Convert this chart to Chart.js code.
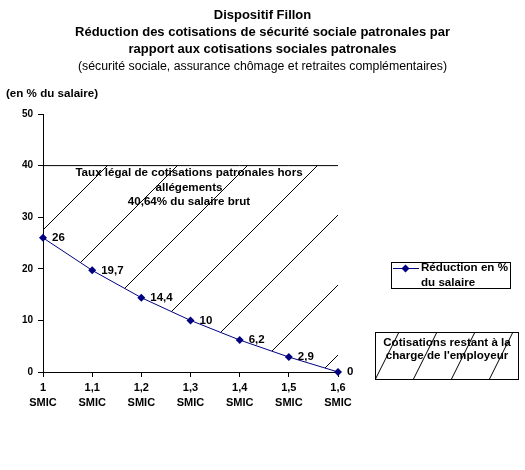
<!DOCTYPE html>
<html lang="fr">
<head>
<meta charset="UTF-8">
<title>Dispositif Fillon</title>
<script src="https://cdn.jsdelivr.net/npm/chart.js"></script>
<style>
    body { margin: 0; background: #fff; }
    canvas { display: block; }
</style>
</head>
<body>
<canvas id="fillonChart" width="525" height="470"></canvas>
<script>
// Data
const smicLevels = ['1', '1,1', '1,2', '1,3', '1,4', '1,5', '1,6'];
const reduction = [26, 19.7, 14.4, 10, 6.2, 2.9, 0];
const tauxLegal = [40, 40, 40, 40, 40, 40, 40];
const yTicks = [0, 10, 20, 30, 40, 50];

const titleLines = [
    'Dispositif Fillon',
    'Réduction des cotisations de sécurité sociale patronales par',
    'rapport aux cotisations sociales patronales'
];
const subtitleText = '(sécurité sociale, assurance chômage et retraites complémentaires)';
const yAxisTitle = '(en % du salaire)';
const areaText = ['Taux légal de cotisations patronales hors', 'allégements', '40,64% du salaire brut'];
const legendReduction = ['Réduction en %', 'du salaire'];
const legendRestant = ['Cotisations restant à la', "charge de l'employeur"];

const FONT = '"Liberation Sans", Arial, sans-serif';
const NAVY = '#000080';

// diagonal hatch used for the area between the 40 line and the reduction curve
function makeHatch(size, phase) {
    const c = document.createElement('canvas');
    c.width = size;
    c.height = size;
    const g = c.getContext('2d');
    g.strokeStyle = '#000';
    g.lineWidth = 1;
    [phase, phase + size].forEach(k => {
        g.beginPath();
        g.moveTo(-10, k + 10);
        g.lineTo(size + 10, k - size - 10);
        g.stroke();
    });
    return g.createPattern(c, 'repeat');
}
const hatch = makeHatch(70, 63);

function fmt(v) {
    return String(v).replace('.', ',');
}

const extras = {
    id: 'extras',
    afterDatasetsDraw(chart) {
        const ctx = chart.ctx;
        const area = chart.chartArea;
        ctx.save();
        ctx.fillStyle = '#000';
        ctx.textBaseline = 'middle';

        // axis caption
        ctx.font = 'bold 11.6px ' + FONT;
        ctx.textAlign = 'left';
        ctx.fillText(yAxisTitle, 6, 94);

        // value labels
        ctx.font = 'bold 11.5px ' + FONT;
        chart.getDatasetMeta(0).data.forEach((pt, i) => {
            ctx.fillText(fmt(reduction[i]), pt.x + 9, pt.y);
        });

        // text inside the hatched zone
        ctx.font = 'bold 11.6px ' + FONT;
        ctx.textAlign = 'center';
        areaText.forEach((t, i) => {
            ctx.fillText(t, area.left + 146, area.top + 59 + i * 14.5);
        });

        // legend: reduction series
        ctx.fillStyle = '#fff';
        ctx.fillRect(391.5, 262.5, 119, 26);
        ctx.strokeStyle = '#000';
        ctx.lineWidth = 1;
        ctx.strokeRect(391.5, 262.5, 119, 26);
        ctx.strokeStyle = NAVY;
        ctx.beginPath();
        ctx.moveTo(393, 268.5);
        ctx.lineTo(419, 268.5);
        ctx.stroke();
        ctx.fillStyle = NAVY;
        ctx.beginPath();
        ctx.moveTo(405.5, 264.5);
        ctx.lineTo(409.5, 268.5);
        ctx.lineTo(405.5, 272.5);
        ctx.lineTo(401.5, 268.5);
        ctx.closePath();
        ctx.fill();
        ctx.fillStyle = '#000';
        ctx.textAlign = 'left';
        ctx.fillText(legendReduction[0], 421, 268);
        ctx.fillText(legendReduction[1], 421, 283);

        // legend: hatched zone
        ctx.strokeStyle = '#000';
        ctx.strokeRect(375.5, 332.5, 143, 47);
        ctx.save();
        ctx.beginPath();
        ctx.rect(376, 333, 142, 46);
        ctx.clip();
        for (let k = -1; k < 5; k++) {
            const x0 = 375 + k * 38;
            ctx.beginPath();
            ctx.moveTo(x0, 380);
            ctx.lineTo(x0 + 24, 332);
            ctx.stroke();
        }
        ctx.restore();
        ctx.textAlign = 'center';
        ctx.fillText(legendRestant[0], 447, 343);
        ctx.fillText(legendRestant[1], 447, 356);

        ctx.restore();
    }
};

const ctx = document.getElementById('fillonChart').getContext('2d');
new Chart(ctx, {
    type: 'line',
    data: {
        labels: smicLevels.map(s => [s, 'SMIC']),
        datasets: [
            {
                label: 'Réduction en % du salaire',
                data: reduction,
                borderColor: NAVY,
                borderWidth: 1,
                pointStyle: 'rectRot',
                pointRadius: 4,
                pointBackgroundColor: NAVY,
                pointBorderColor: NAVY,
                pointBorderWidth: 0,
                tension: 0,
                fill: false,
                clip: false
            },
            {
                label: 'Cotisations restant à la charge de l\'employeur',
                data: tauxLegal,
                borderColor: '#000',
                borderWidth: 1,
                pointRadius: 0,
                backgroundColor: hatch,
                fill: 0
            }
        ]
    },
    options: {
        responsive: false,
        animation: false,
        layout: { padding: 0 },
        plugins: {
            legend: { display: false },
            tooltip: { enabled: false },
            title: {
                display: true,
                text: titleLines,
                color: '#000',
                font: { family: FONT, size: 13, weight: 'bold', lineHeight: '17px' },
                padding: { top: 7, bottom: 0 }
            },
            subtitle: {
                display: true,
                text: subtitleText,
                color: '#000',
                font: { family: FONT, size: 12.3, weight: 'normal', lineHeight: '17px' },
                padding: { top: 0, bottom: 39 }
            }
        },
        scales: {
            x: {
                type: 'category',
                offset: false,
                grid: { drawOnChartArea: false, color: '#000', tickLength: 5 },
                border: { color: '#000' },
                ticks: {
                    color: '#000',
                    font: { family: FONT, size: 11, weight: 'bold', lineHeight: '15px' },
                    padding: 3,
                    maxRotation: 0,
                    autoSkip: false
                },
                afterFit(scale) { scale.height = 98; }
            },
            y: {
                min: yTicks[0],
                max: yTicks[yTicks.length - 1],
                grid: { drawOnChartArea: false, color: '#000', tickLength: 5 },
                border: { color: '#000' },
                ticks: {
                    stepSize: yTicks[1] - yTicks[0],
                    color: '#000',
                    font: { family: FONT, size: 10, weight: 'bold' },
                    padding: 5
                },
                afterFit(scale) { scale.width = 43; }
            },
            // empty right-hand axis that reserves the space used by the legend boxes
            side: {
                position: 'right',
                grid: { display: false },
                border: { display: false },
                ticks: { display: false },
                afterFit(scale) { scale.width = 187; }
            }
        }
    },
    plugins: [extras]
});
</script>
</body>
</html>
